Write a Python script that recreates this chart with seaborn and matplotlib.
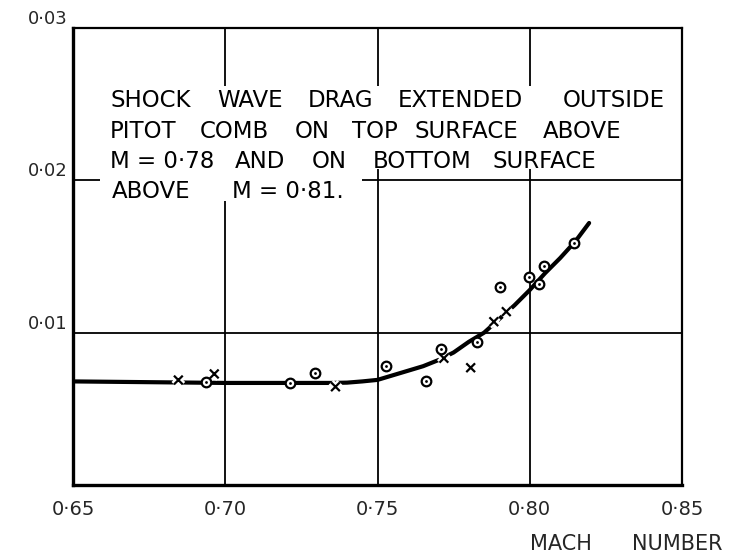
import matplotlib
matplotlib.use("Agg")
import matplotlib.pyplot as plt
import matplotlib.patheffects as pe
from matplotlib.patches import Rectangle
import pandas as pd
import seaborn as sns

# ---- data ----
circle_mach = [0.6937, 0.7212, 0.7296, 0.7527, 0.7658, 0.7707, 0.7827, 0.7902, 0.7999, 0.8032, 0.8046, 0.8144]
circle_cd = [0.00678, 0.00672, 0.00737, 0.00781, 0.00683, 0.00893, 0.00937, 0.01302, 0.01363, 0.01320, 0.01438, 0.01587]

cross_mach = [0.6846, 0.6964, 0.7362, 0.7718, 0.7806, 0.7882, 0.7923]
cross_cd = [0.00689, 0.00729, 0.00645, 0.00832, 0.00770, 0.01072, 0.01138]

curve_mach = [0.650, 0.700, 0.735, 0.740, 0.745, 0.750, 0.755, 0.760, 0.765, 0.770,
              0.775, 0.780, 0.785, 0.790, 0.795, 0.800, 0.805, 0.810, 0.815, 0.8195]
curve_cd = [0.0068, 0.0067, 0.0067, 0.00672, 0.0068, 0.0069, 0.0072, 0.0075, 0.0078, 0.0082,
            0.0087, 0.0094, 0.0100, 0.0109, 0.0118, 0.0128, 0.0139, 0.0149, 0.0160, 0.0172]

x_ticks = [0.65, 0.70, 0.75, 0.80, 0.85]
x_tick_labels = ["0·65", "0·70", "0·75", "0·80", "0·85"]
y_ticks = [0.01, 0.02, 0.03]
y_tick_labels = ["0·01", "0·02", "0·03"]

note_line1 = ["SHOCK", "WAVE", "DRAG", "EXTENDED", "OUTSIDE"]
note_line2 = ["PITOT", "COMB", "ON", "TOP", "SURFACE", "ABOVE"]
note_line3 = ["M = 0·78", "AND", "ON", "BOTTOM", "SURFACE"]
note_line4 = ["ABOVE", "M = 0·81."]
x_label_words = ["MACH", "NUMBER"]

# ---- layout (pixel positions of the hand lettering) ----
W, H = 733, 553
AX_L, AX_R, AX_T, AX_B = 73, 682, 28, 485
word_x = [[110, 217, 308, 398, 563],
          [110, 200, 295, 352, 415, 543],
          [110, 235, 312, 373, 493],
          [112, 232]]
line_base = [107, 138, 168, 198]


def ax_xy(px, py):
    return (px - AX_L) / (AX_R - AX_L), (AX_B - py) / (AX_B - AX_T)


sns.set_style("white")
plt.rcParams["font.family"] = ["DejaVu Sans"]

fig = plt.figure(figsize=(W / 100, H / 100), dpi=100)
ax = fig.add_axes([AX_L / W, 1 - AX_B / H, (AX_R - AX_L) / W, (AX_B - AX_T) / H])

curve_df = pd.DataFrame({"mach": curve_mach, "cd": curve_cd})
circ_df = pd.DataFrame({"mach": circle_mach, "cd": circle_cd})
cross_df = pd.DataFrame({"mach": cross_mach, "cd": cross_cd})

sns.lineplot(data=curve_df, x="mach", y="cd", ax=ax, color="black", linewidth=3,
             estimator=None, sort=False, zorder=3)

sns.scatterplot(data=cross_df, x="mach", y="cd", ax=ax, marker="x", s=40,
                color="black", linewidth=1.6, zorder=4,
                path_effects=[pe.Stroke(linewidth=5, foreground="white"), pe.Normal()])

sns.scatterplot(data=circ_df, x="mach", y="cd", ax=ax, marker="o", s=48,
                facecolor="white", edgecolor="black", linewidth=1.6, zorder=5)
sns.scatterplot(data=circ_df, x="mach", y="cd", ax=ax, marker="o", s=4,
                color="black", linewidth=0, zorder=6)

ax.set_xlim(0.65, 0.85)
ax.set_ylim(0, 0.03)
ax.set_xticks(x_ticks)
ax.set_xticklabels(x_tick_labels, fontsize=14)
ax.set_yticks(y_ticks)
ax.set_yticklabels(y_tick_labels, fontsize=13, va="bottom")
ax.tick_params(axis="y", length=0, pad=4)
ax.tick_params(axis="x", length=0, pad=11)
ax.set_xlabel("")
ax.set_ylabel("")

ax.grid(True, color="black", linewidth=1.3)
ax.set_axisbelow(True)
for side, lw in [("left", 2.4), ("bottom", 2.4), ("top", 1.6), ("right", 1.6)]:
    ax.spines[side].set_visible(True)
    ax.spines[side].set_color("black")
    ax.spines[side].set_linewidth(lw)

# white areas behind the note (grid lines are interrupted there)
for (pl, pt, pr, pb) in [(100, 86, 672, 169), (100, 165, 362, 201)]:
    x0, y0 = ax_xy(pl, pb)
    x1, y1 = ax_xy(pr, pt)
    ax.add_patch(Rectangle((x0, y0), x1 - x0, y1 - y0, transform=ax.transAxes,
                           facecolor="white", edgecolor="none", zorder=2.5))

for words, xs, base in zip([note_line1, note_line2, note_line3, note_line4], word_x, line_base):
    for word, px in zip(words, xs):
        tx, ty = ax_xy(px, base)
        ax.text(tx, ty, word, transform=ax.transAxes, fontsize=16.5, color="black",
                ha="left", va="baseline", zorder=7)

fig.text(530 / W, 1 - 550 / H, x_label_words[0], fontsize=15, ha="left", va="baseline")
fig.text(722 / W, 1 - 550 / H, x_label_words[1], fontsize=15, ha="right", va="baseline")

fig.savefig("out.png", dpi=100)
